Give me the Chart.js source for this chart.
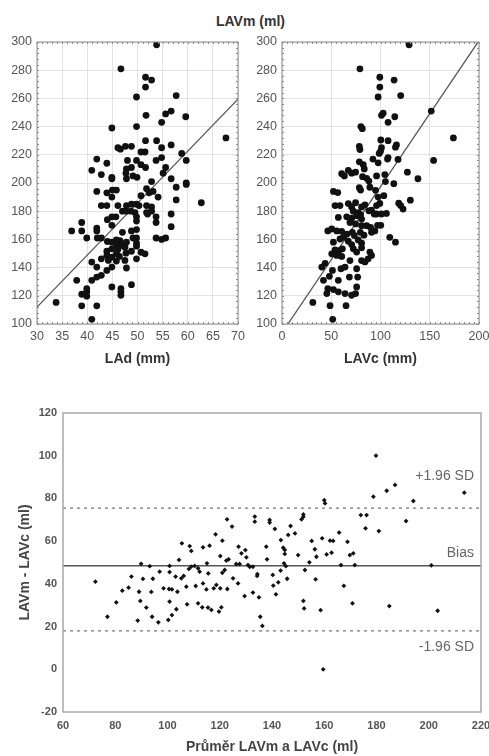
<!DOCTYPE html>
<html>
<head>
<meta charset="utf-8">
<script src="https://cdn.jsdelivr.net/npm/chart.js@4.4.1/dist/chart.umd.min.js"></script>
<style>
  body { margin: 0; background: #fff; font-family: "Liberation Sans", Arial, sans-serif; }
  #wrap { position: relative; width: 489px; height: 756px; }
  canvas { position: absolute; }
  #topTitle { position: absolute; left: 216px; top: 13px; font-size: 14px; font-weight: bold; color: #333; white-space: nowrap; }
</style>
</head>
<body>
<div id="wrap">
  <div id="topTitle">LAVm (ml)</div>
  <canvas id="graph1" width="245" height="375" style="left:0;top:0"></canvas>
  <canvas id="graph2" width="244" height="375" style="left:245px;top:0"></canvas>
  <canvas id="graph3" width="489" height="371" style="left:0;top:385px"></canvas>
</div>
<script>
// left scatter: LAd (mm) vs LAVm (ml)
var ladValues = [53.8,46.7,51.6,52.8,51.6,49.8,57.7,55.6,56.7,51.7,59.6,54.8,44.9,49.8,67.6,51.6,53.8,56.7,54.8,46.1,
  46.6,47.6,48.8,50.7,51.5,58.8,41.9,43.9,48,49.8,53.7,54.8,59.7,50.7,51.6,40.9,42.8,44.9,44.9,47.8,
  48.8,47.7,47.8,49.1,49.9,55.6,55.1,52.8,56.7,57.7,59.7,59.7,41.9,43.9,45,45.8,44.9,51.8,52.3,53.1,
  50.7,54.1,57.7,62.7,42.8,43.9,46.1,47.8,48.8,49.8,50.3,47,47.8,48.7,49.5,51.8,52.8,52.8,51.8,52,
  44.9,45.7,44,49.8,49.8,53.7,53.7,56.7,56.7,38.9,36.9,38.9,39.9,41.9,41.9,44.9,42,42.8,47,48.8,
  49.8,49.8,49.1,44,44.9,45.8,46.2,46.5,46.6,45.8,47,47.8,53.7,54.8,55.6,44.9,43.9,46.1,47.5,49.8,
  49.8,45.8,43.9,44.9,46.4,47.7,48.8,50.7,51.5,40.9,42.8,44.2,45.8,47.5,49.8,41.9,43.9,44.9,47.8,42.8,
  41.9,40.9,37.9,44.9,46.7,46.7,46.7,48.8,39.9,39.9,38.9,39.9,33.8,38.9,41.9,40.9];
var lavmLeft = [298,281,275,273,268,261,262,249,251,248,247,243,239,240,232,230,230,227,225,225,
  224,226,226,222,222,221,217,214,216,216,216,218,216,213,211,209,206,204,203,210,
  211,207,203,205,204,211,207,201,203,197,200,199,194,193,195,195,190,196,193,194,
  191,190,188,186,184,184,184,184,185,185,184,180,180,180,179,184,183,180,179,178,
  176,176,174,176,173,176,172,178,169,172,166,166,161,168,166,170,161,161,165,166,
  167,161,161,158.5,158,159.6,158,159.2,155.6,154.9,156.8,158,161,160,161,153.3,151.6,152.8,154.5,157.3,
  155.2,149.8,148.6,147.4,147.9,150.2,151.6,150.9,149.8,143.9,146.2,145.1,144.6,145.1,146.2,140.4,138,140.4,139.7,134.5,
  133.3,131,131,126.3,125.1,122.8,120.4,127.9,125.1,122.8,121.1,119.7,115.3,112.9,112.9,103.3];
var ladFitX = [30, 70];
var ladFitY = [112, 259.5];

// right scatter: LAVc vs LAVm (ml)
var lavcValues = [129,79.1,99.3,113.8,99.3,97.6,120.5,151.5,101,102.7,114.5,107.7,80.1,81.5,174,100.3,107.7,116.2,115.2,78.5,
  79.1,101,100,98.7,107.7,107.1,92.3,97.6,78.5,82.5,83.5,153.9,117.8,60.6,63.3,67.3,70.7,74.7,81.8,85.9,
  88.2,96,104.4,105,127.3,138,113.5,52.2,56.6,78.5,79.8,89.2,95,97.6,103.4,53.9,58.9,67.3,70.7,74.7,
  80.8,84.2,88.2,72.4,77.4,79.8,80.8,90.9,93.6,96,99.3,96,101,106,118.5,120.5,130.3,122.9,57.2,65.7,
  70.7,75.8,69,74.7,80.8,85.9,89.9,97,100.3,46.5,50.5,55.6,60.6,66,71.4,73.4,79.5,83.2,90.9,94.3,
  109.4,115.2,52.2,58.9,62.3,67.3,53.9,57.9,61.3,70.7,72.4,77.4,80.8,75.8,80.8,89.2,90.9,50.5,55.6,60.6,
  80.8,84.2,87.5,43.8,40.4,51.2,59.9,64,69,42.1,48.1,57.2,68.4,75.8,76.8,46.5,45.5,52.2,57.2,64,
  70.7,75.8,74.7,31.3,48.8,65,51.5];
var lavmRight = [298,281,275,273,268,261,262,251,248,249.5,247,243,240,238.5,232,230.5,230,227,225.4,226,
  223.7,225,222.5,221,218,217,217,214.3,215,213,210,216,216.7,206.6,205,209,207,207.7,204.5,203.3,
  201.4,205,206,201,207.7,203,199.5,194,193.2,196.7,195,197,194.8,190,191,184,184,185.4,183,186,
  183,184.5,180.3,180,179,177.5,174.4,180.8,178,184,185.5,178,178,178.4,185.7,184,187.8,181.5,175.6,176,
  175,176.8,172,171,169.7,169.7,168.5,170,170,166,167.4,166,165.7,163.8,165,162.7,165,163,165,166,
  161.5,158,158,160.3,161.5,158.7,152.6,152.1,153.3,156.3,153.3,159.6,157.3,151,154,151,148.6,149.8,148.6,147.9,
  145,144,146.2,143,140.4,138,139.2,140.4,145,131,133.8,131,133.3,139.2,133.3,125,121.6,124.4,122.8,121.6,
  120.4,126.3,121.6,115.3,113,113,103.3];
var lavcFitX = [6, 200];
var lavcFitY = [100, 301];

// Bland-Altman: mean of LAVm and LAVc vs difference
var baMean = [72.4,77,80.4,82.7,85.1,86.2,89.1,89.6,91.9,89.9,90.6,93.2,93.8,94.4,94.1,97,98.5,100.8,100.8,100.6,
  101.7,100.8,101.7,103.4,103.8,103.1,104.4,105.3,106.2,105.5,108.5,109.1,107.2,107.5,108.2,109.1,110.4,111.7,112.3,113.6,
  115.1,116.1,110.8,111.7,113.6,114.9,115.6,113.3,115.5,116.8,117.7,118.7,120.2,120.6,119.7,118.4,121,120.2,122.5,123.4,
  121.9,121,122.8,124.7,122.9,125.1,127,126.3,127.6,127.2,128.3,129.8,130.2,130.8,131.5,132.7,129.5,132.7,135,135.5,
  134.4,134.3,133.4,133.4,137.8,138.1,139.1,139.1,141.1,141.5,142.4,143.4,143.3,144.3,144.9,144.9,144.6,145.3,146.2,147.1,
  148.8,145.8,150,151.3,152,152,152.6,152,152.3,154.3,155.2,156.4,157,156.7,158.6,159.2,160,160.3,160.9,162.8,
  162.2,163.4,159.6,165.7,166.4,167.5,168.9,169.8,171.1,171.7,170.8,174,176.2,175.8,178.8,179.8,180.9,183.9,187.1,184.9,
  191.3,194.1,201,203.4,213.6,88.6,96.5,100.3,136.3,140.3,140.5];
var baDiff = [41,24.6,31.3,36.8,38.2,43.4,36.3,32,28.9,49.4,42.3,48.3,36.2,42.4,24.6,45.7,37.9,48.4,45.5,37.6,
  37.4,31.7,25.4,28.1,36.3,43.4,51.2,42.6,43.7,59,57.7,55.4,38.7,30.4,47,48.1,48.4,47.3,45.7,57.1,
  49.6,57.9,39,30.9,40.2,37.4,44.9,29,28.9,27.8,37.9,39.5,37.9,29,27,63.2,60.2,53,50.9,51.5,
  46.5,45.2,70.2,66.8,37.6,42.6,40.2,49.3,49.3,57.4,54.3,55.8,52.4,48.8,48,48,34.3,35.9,33.7,24.6,
  44.6,43.7,71.5,69.1,57.4,51.5,69.9,68.7,65.7,35.1,40.7,60.5,46.2,56.9,55.9,54,49.6,48.3,62.9,67.1,
  63.6,42.4,53.5,70.2,72.5,71.4,46.5,32,28.5,50.1,60.1,56.2,52.7,42.1,27.7,61.3,79.2,77.7,53.8,54.6,
  60.2,60.1,0,64,48.8,39.1,59.7,53.5,54.3,48.8,30.9,72.2,72.2,66,80.8,100,64.7,83.6,86.3,29.6,
  69.4,78.8,48.7,27.4,82.7,22.8,22,23.1,20.3,44.2,39.2];
var biasValue = 48.5;
var upperLimit = 75.5;
var lowerLimit = 18;
var limitNames = ['+1.96 SD', 'Bias', '-1.96 SD'];

function toPoints(xs, ys) {
  return xs.map(function (x, i) { return { x: x, y: ys[i] }; });
}

// outer frame with small minor ticks like the original plots
var framePlugin = {
  id: 'frame',
  afterDatasetsDraw: function (chart, args, opts) {
    var a = chart.chartArea, ctx = chart.ctx;
    ctx.save();
    ctx.strokeStyle = opts.color || '#888';
    ctx.lineWidth = opts.width || 1;
    ctx.strokeRect(a.left, a.top, a.right - a.left, a.bottom - a.top);
    if (opts.minorX) {
      var xs = chart.scales.x, ys = chart.scales.y;
      ctx.lineWidth = 1;
      ctx.beginPath();
      for (var v = xs.min; v <= xs.max; v += opts.minorX) {
        var px = Math.round(xs.getPixelForValue(v)) + 0.5;
        ctx.moveTo(px, a.top); ctx.lineTo(px, a.top + 2);
        ctx.moveTo(px, a.bottom); ctx.lineTo(px, a.bottom - 2);
      }
      for (var w = ys.min; w <= ys.max; w += opts.minorY) {
        var py = Math.round(ys.getPixelForValue(w)) + 0.5;
        ctx.moveTo(a.left, py); ctx.lineTo(a.left + 2, py);
        ctx.moveTo(a.right, py); ctx.lineTo(a.right - 2, py);
      }
      ctx.stroke();
    }
    ctx.restore();
  }
};

function makeScatter(id, xs, ys, fitX, fitY, xMin, xMax, xStep, xTitle, minorX) {
  var ctx = document.getElementById(id).getContext('2d');
  return new Chart(ctx, {
    type: 'scatter',
    data: {
      datasets: [
        {
          data: toPoints(xs, ys),
          backgroundColor: '#111',
          borderColor: '#111',
          pointRadius: 3.4,
          borderWidth: 0
        },
        {
          type: 'line',
          data: toPoints(fitX, fitY),
          borderColor: '#555',
          borderWidth: 1.3,
          pointRadius: 0,
          fill: false
        }
      ]
    },
    options: {
      responsive: false,
      animation: false,
      layout: { padding: { top: 42, right: id === 'graph1' ? 7 : 10, left: 0, bottom: 0 } },
      plugins: {
        legend: { display: false },
        tooltip: { enabled: false },
        frame: { color: '#8c8c8c', width: 1, minorX: minorX, minorY: 4 }
      },
      scales: {
        x: {
          type: 'linear',
          min: xMin,
          max: xMax,
          ticks: { stepSize: xStep, padding: 5, color: '#555', font: { size: 12.5, family: 'Liberation Sans' } },
          grid: { color: '#e3e3e3', drawTicks: false },
          border: { display: false },
          title: { display: true, text: xTitle, color: '#333', font: { size: 14, weight: 'bold', family: 'Liberation Sans' }, padding: { top: 0, bottom: 7 } },
          afterFit: function (s) { s.height = 51; s.paddingLeft = 0; s.paddingRight = 0; }
        },
        y: {
          min: 100,
          max: 300,
          ticks: { stepSize: 20, padding: 5, color: '#555', font: { size: 12.5, family: 'Liberation Sans' } },
          grid: { color: '#e3e3e3', drawTicks: false },
          border: { display: false },
          afterFit: function (s) { s.width = 37; s.paddingTop = 0; s.paddingBottom = 0; }
        }
      }
    },
    plugins: [framePlugin]
  });
}

makeScatter('graph1', ladValues, lavmLeft, ladFitX, ladFitY, 30, 70, 5, 'LAd (mm)', 1);
makeScatter('graph2', lavcValues, lavmRight, lavcFitX, lavcFitY, 0, 200, 50, 'LAVc (mm)', 5);

// labels next to the limit lines
var limitLabelPlugin = {
  id: 'limitLabels',
  afterDatasetsDraw: function (chart) {
    var ctx = chart.ctx, y = chart.scales.y, a = chart.chartArea;
    var vals = [upperLimit, biasValue, lowerLimit];
    var shift = [-32, -13, 16];
    ctx.save();
    ctx.fillStyle = '#666';
    ctx.font = '14px "Liberation Sans", Arial, sans-serif';
    ctx.textAlign = 'right';
    ctx.textBaseline = 'middle';
    for (var i = 0; i < vals.length; i++) {
      ctx.fillText(limitNames[i], a.right - 7, y.getPixelForValue(vals[i]) + shift[i]);
    }
    ctx.restore();
  }
};

function makeBlandAltman() {
  var ctx = document.getElementById('graph3').getContext('2d');
  var hLine = function (v) { return [{ x: 60, y: v }, { x: 220, y: v }]; };
  return new Chart(ctx, {
    type: 'scatter',
    data: {
      datasets: [
        {
          data: toPoints(baMean, baDiff),
          backgroundColor: '#111',
          borderColor: '#111',
          pointStyle: 'rectRot',
          pointRadius: 2.4,
          borderWidth: 0
        },
        { type: 'line', data: hLine(biasValue), borderColor: '#555', borderWidth: 1.6, pointRadius: 0 },
        { type: 'line', data: hLine(upperLimit), borderColor: '#777', borderWidth: 1.3, borderDash: [3, 4], pointRadius: 0 },
        { type: 'line', data: hLine(lowerLimit), borderColor: '#777', borderWidth: 1.3, borderDash: [3, 4], pointRadius: 0 }
      ]
    },
    options: {
      responsive: false,
      animation: false,
      layout: { padding: { top: 28, right: 8, left: 0, bottom: 0 } },
      plugins: {
        legend: { display: false },
        tooltip: { enabled: false },
        frame: { color: '#a8a8a8', width: 1.5 }
      },
      scales: {
        x: {
          type: 'linear',
          min: 60,
          max: 220,
          ticks: { stepSize: 20, padding: 7, color: '#555', font: { size: 11, weight: 'bold', family: 'Liberation Sans' } },
          grid: { display: false, drawTicks: false },
          border: { display: false },
          title: { display: true, text: 'Průměr LAVm a LAVc (ml)', color: '#444', font: { size: 14, weight: 'bold', family: 'Liberation Sans' }, padding: { top: 0, bottom: 0 } },
          afterFit: function (s) { s.height = 44; s.paddingLeft = 0; s.paddingRight = 0; }
        },
        y: {
          min: -20,
          max: 120,
          ticks: { stepSize: 20, padding: 6, color: '#555', font: { size: 11, weight: 'bold', family: 'Liberation Sans' } },
          grid: { display: false, drawTicks: false },
          border: { display: false },
          title: { display: true, text: 'LAVm - LAVc (ml)', color: '#444', font: { size: 14, weight: 'bold', family: 'Liberation Sans' }, padding: { top: 17, bottom: 0 } },
          afterFit: function (s) { s.width = 63; s.paddingTop = 0; s.paddingBottom = 0; }
        }
      }
    },
    plugins: [framePlugin, limitLabelPlugin]
  });
}

makeBlandAltman();
</script>
</body>
</html>
